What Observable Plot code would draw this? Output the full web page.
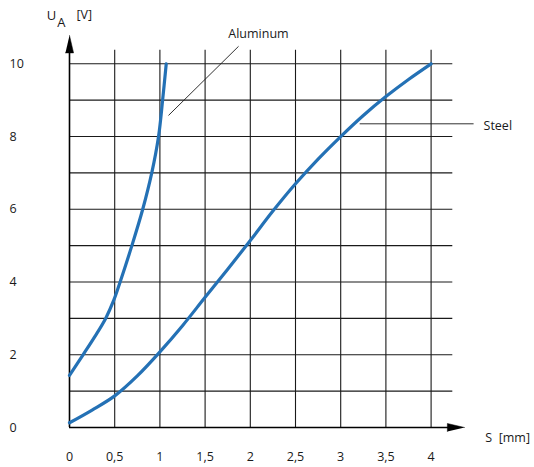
<!DOCTYPE html>
<html><head><meta charset="utf-8">
<script src="https://cdn.jsdelivr.net/npm/d3@7"></script>
<script src="https://cdn.jsdelivr.net/npm/@observablehq/plot@0.6"></script>
<style>body{margin:0;background:#fff} svg{display:block}</style>
</head><body><div id="chart"></div>
<script>
// tick values
const xTicks = [0, 0.5, 1, 1.5, 2, 2.5, 3, 3.5, 4];
const yTicks = [0, 2, 4, 6, 8, 10];
const gridX = [0.5, 1, 1.5, 2, 2.5, 3, 3.5, 4];
const gridY = [1, 2, 3, 4, 5, 6, 7, 8, 9, 10];

// series: Steel
const steelS = [0, 0.25, 0.5, 0.75, 1, 1.25, 1.5, 1.75, 2, 2.25, 2.5, 2.75, 3, 3.25, 3.5, 3.75, 4];
const steelU = [0.13, 0.48, 0.87, 1.42, 2.08, 2.8, 3.58, 4.35, 5.14, 5.95, 6.7, 7.38, 8.0, 8.58, 9.1, 9.57, 10];

// series: Aluminum
const aluS = [0, 0.15, 0.28, 0.4, 0.49, 0.56, 0.69, 0.81, 0.91, 0.985, 1.03, 1.07];
const aluU = [1.43, 2, 2.5, 3, 3.5, 4, 5, 6, 7, 8, 9, 10];

const steel = steelS.map((s, i) => ({s, u: steelU[i]}));
const alu = aluS.map((s, i) => ({s, u: aluU[i]}));

const blue = "#2471b5";
const ink = "#1a1a1a";
const font = "'Open Sans', 'Noto Sans', sans-serif";
const comma = d => String(d).replace(".", ",");

const chart = Plot.plot({
  width: 534,
  height: 467,
  marginLeft: 69,
  marginRight: 103.4,
  marginTop: 63.3,
  marginBottom: 40,
  style: {fontFamily: font, fontSize: "12.5px", color: ink, background: "#fff"},
  x: {domain: [0, 4], axis: null},
  y: {domain: [0, 10], axis: null},
  marks: [
    Plot.ruleX(gridX, {x: d => d, y1: 0, y2: 10.37, stroke: ink, strokeWidth: 1.1}),
    Plot.ruleY(gridY, {y: d => d, x1: 0, x2: 4.24, stroke: ink, strokeWidth: 1.1}),
    Plot.ruleX([0], {x: d => d, y1: 0, y2: 10.35, stroke: "#000", strokeWidth: 1.6}),
    Plot.ruleY([0], {y: d => d, x1: 0, x2: 4.2, stroke: "#000", strokeWidth: 1.6}),
    Plot.line([[-0.045, 10.3], [0.045, 10.3], [0, 10.78]], {x: d => d[0], y: d => d[1], fill: "#000", stroke: "#000", strokeWidth: 0.5}),
    Plot.line([[4.18, -0.11], [4.18, 0.11], [4.37, 0]], {x: d => d[0], y: d => d[1], fill: "#000", stroke: "#000", strokeWidth: 0.5}),
    Plot.axisX(xTicks, {anchor: "bottom", tickSize: 0, tickPadding: 25, tickFormat: comma, fontSize: 12.5, label: null}),
    Plot.axisY(yTicks, {anchor: "left", tickSize: 0, tickPadding: 0, textAnchor: "start", dx: -60, fontSize: 12.5, label: null}),
    Plot.line(steel, {x: "s", y: "u", stroke: blue, strokeWidth: 3.2, curve: "catmull-rom"}),
    Plot.line(alu, {x: "s", y: "u", stroke: blue, strokeWidth: 3.2, curve: "catmull-rom"}),
    Plot.link([{x1: 1.87, y1: 10.48, x2: 1.095, y2: 8.58}], {x1: "x1", y1: "y1", x2: "x2", y2: "y2", stroke: ink, strokeWidth: 0.9}),
    Plot.link([{x1: 3.21, y1: 8.35, x2: 4.47, y2: 8.35}], {x1: "x1", y1: "y1", x2: "x2", y2: "y2", stroke: ink, strokeWidth: 0.9}),
    Plot.text(["Aluminum"], {x: 2.09, y: 10.83, text: d => d, fontSize: 12.5, fill: ink}),
    Plot.text(["Steel"], {x: 4.58, y: 8.28, text: d => d, textAnchor: "start", fontSize: 12.5, fill: ink}),
    Plot.text(["S  [mm]"], {x: 4.6, y: -0.3, text: d => d, textAnchor: "start", fontSize: 12.5, fill: ink}),
    Plot.text(["U"], {x: -0.2, y: 11.33, text: d => d, fontSize: 13, fill: ink}),
    Plot.text(["A"], {x: -0.09, y: 11.13, text: d => d, fontSize: 13, fill: ink}),
    Plot.text(["[V]"], {x: 0.077, y: 11.33, text: d => d, textAnchor: "start", fontSize: 12.5, fill: ink})
  ]
});
document.getElementById("chart").appendChild(chart);
</script>
</body></html>
